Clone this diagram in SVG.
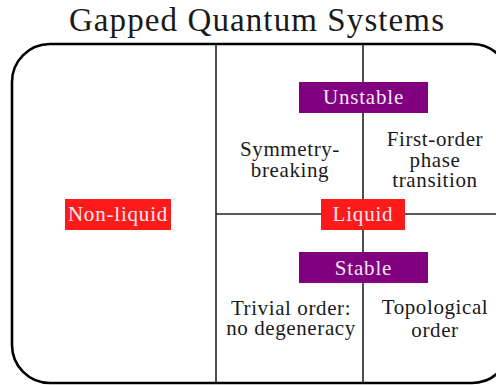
<svg xmlns="http://www.w3.org/2000/svg" width="496" height="385" viewBox="0 0 496 385">
<style>
text{font-family:"Liberation Serif","DejaVu Serif",serif;fill:#1a1a1a;text-anchor:middle}
.t{font-size:21px;letter-spacing:0.6px}
.lbl{font-size:21px;letter-spacing:0.8px;fill:#f3e8f3}
.purple{fill:#800080}
.red{fill:#ff1a1a}
.ln{stroke:#222;stroke-width:1.6;fill:none}
</style>
<rect width="496" height="385" fill="#fff"/>
<text x="257" y="31" style="font-size:33px;letter-spacing:1.1px">Gapped Quantum Systems</text>
<g id="frame">
<rect x="12" y="44" width="498" height="339" rx="38" ry="38" fill="none" stroke="#000" stroke-width="2.6"/>
</g>
<g id="connectors">
<line class="ln" x1="216" y1="44" x2="216" y2="383"/>
<line class="ln" x1="363" y1="44" x2="363" y2="383"/>
<line class="ln" x1="216" y1="214" x2="510" y2="214"/>
</g>
<g id="unstable"><rect class="purple" x="299" y="82" width="129" height="31"/><text class="lbl" x="363.5" y="104">Unstable</text></g>
<g id="stable"><rect class="purple" x="299" y="252" width="129" height="31"/><text class="lbl" x="363.5" y="275">Stable</text></g>
<g id="liquid"><rect class="red" x="321" y="199" width="84" height="31"/><text class="lbl" x="363" y="221">Liquid</text></g>
<g id="nonliquid"><rect class="red" x="65" y="199" width="106" height="31"/><text class="lbl" x="118" y="221">Non-liquid</text></g>
<g id="symmetry"><text class="t" x="290" y="156">Symmetry-</text><text class="t" x="290" y="177">breaking</text></g>
<g id="firstorder"><text class="t" x="435" y="146">First-order</text><text class="t" x="435" y="167">phase</text><text class="t" x="435" y="187">transition</text></g>
<g id="trivial"><text class="t" x="291" y="315">Trivial order:</text><text class="t" x="291" y="335">no degeneracy</text></g>
<g id="topological"><text class="t" x="435" y="314">Topological</text><text class="t" x="435" y="337">order</text></g>
</svg>
